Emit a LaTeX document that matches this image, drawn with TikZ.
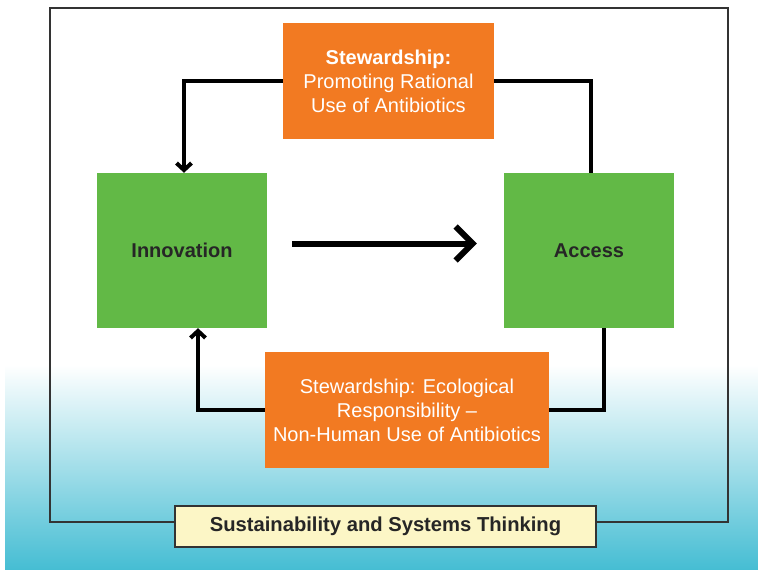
\documentclass[tikz,border=0pt]{standalone}
\usepackage{fontspec}
\setmainfont{Liberation Sans}
\usetikzlibrary{arrows.meta,positioning}
\definecolor{boxgreen}{HTML}{62B946}
\definecolor{boxorange}{HTML}{F27A22}
\definecolor{themeyellow}{HTML}{FCF6C6}
\definecolor{framegray}{HTML}{333333}
\definecolor{seacyan}{HTML}{45BDD3}

\begin{document}
\begin{tikzpicture}[x=1pt,y=-1pt,>={Straight Barb[length=7pt,width=15pt]},
    greenbox/.style={fill=boxgreen,minimum width=170pt,minimum height=155pt,inner sep=0pt,font=\fontsize{20}{24}\selectfont\bfseries,text=black!85},
    orangebox/.style={fill=boxorange,minimum height=116pt,inner sep=0pt,align=center,font=\fontsize{20}{24}\selectfont,text=white},
    themebox/.style={draw=framegray,line width=1.5pt,fill=themeyellow,minimum width=421pt,minimum height=41pt,inner sep=0pt,font=\fontsize{20.2}{24}\selectfont\bfseries,text=black!85},
    conn/.style={line width=4pt,black}]
    \useasboundingbox (0,0) rectangle (758,570);
    \fill[white] (0,0) rectangle (758,570);
    \shade[top color=white,middle color=seacyan!30,bottom color=seacyan] (5,365) rectangle (758,570);

    \node[draw=framegray,line width=1.5pt,minimum width=678pt,minimum height=514pt,inner sep=0pt] (frame) at (389,265) {};

    \node[greenbox]  (innov)  at (182,250.5)  {Innovation};
    \node[greenbox]  (access) at (589,250.5)  {Access};
    \node[orangebox,minimum width=211pt] (stew) at (388.5,81)  {\textbf{Stewardship:}\\Promoting Rational\\Use of Antibiotics};
    \node[orangebox,minimum width=284pt] (eco)  at (407,410)   {Stewardship: Ecological\\Responsibility --\\Non-Human Use of Antibiotics};
    \node[themebox]  (theme)  at (385.5,526.5) {Sustainability and Systems Thinking};

    \draw[line width=6pt,-{Straight Barb[length=17pt,width=34pt]},shorten <=25pt,shorten >=27pt]
        ([yshift=7pt]innov.east) -- ([yshift=7pt]access.west);
    \draw[conn,->] (stew.west) -| ([xshift=2pt]innov.north);
    \draw[conn]    (stew.east) -| ([xshift=2pt]access.north);
    \draw[conn]    ([xshift=15pt]access.south) |- (eco.east);
    \draw[conn,->] (eco.west) -| ([xshift=16pt]innov.south);
\end{tikzpicture}
\end{document}
